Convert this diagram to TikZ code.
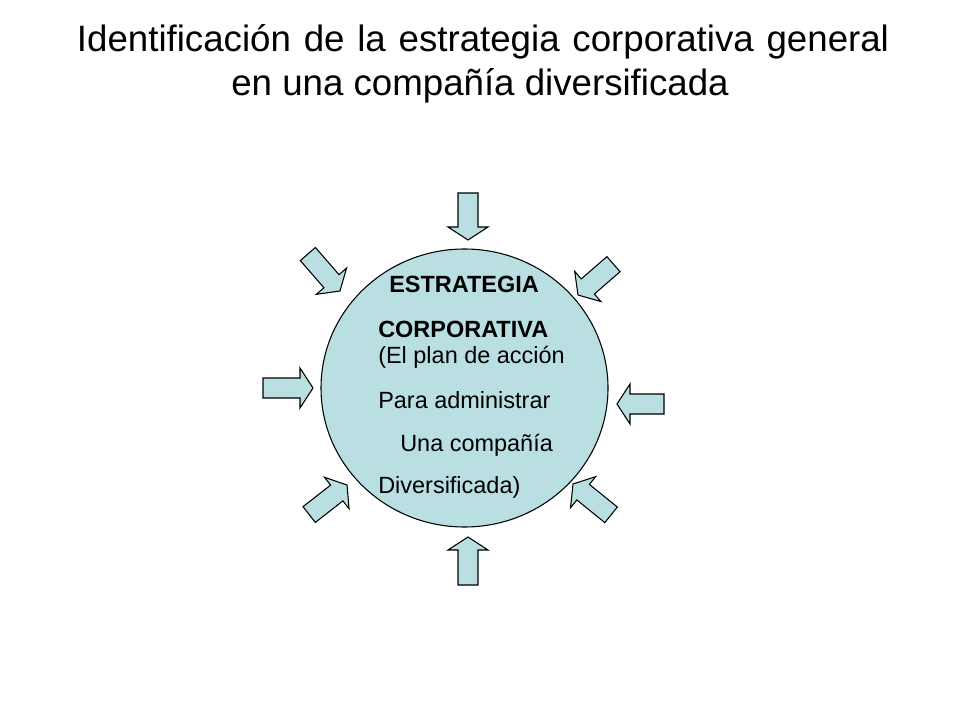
\documentclass[tikz,border=0pt]{standalone}
\usepackage{fontspec}
\setmainfont{Liberation Sans}
\definecolor{circfill}{RGB}{186,223,226}
\tikzset{
  blk/.style={draw=black, line width=0.8pt, fill=circfill, line join=miter},
  circ/.style={draw=black, line width=0.8pt, fill=circfill},
  titletext/.style={font=\fontsize{27.5}{32}\selectfont, inner sep=0pt, anchor=base},
  bodytext/.style={font=\fontsize{17.6}{20}\selectfont, inner sep=0pt, anchor=base west},
}
\newcommand\blockarrow[4]{%
  \draw[blk, shift={(#2)}, rotate=#3] (-#4,-10) -- (-13,-10) -- (-13,-20) -- (0,0) -- (-13,20) -- (-13,10) -- (-#4,10) -- cycle;
  \coordinate (#1) at (#2);}
\begin{document}
\begin{tikzpicture}[x=0.75pt, y=-0.75pt]
\fill[white] (0,0) rectangle (960,720);
\useasboundingbox (0,0) rectangle (960,720);
\node[titletext] (t1) at (483,52) {\spaceskip=9.6pt Identificación de la estrategia corporativa general};
\node[titletext] (t2) at (480,96) {en una compañía diversificada};
\draw[circ] (464.5,388) ellipse [x radius=143.5, y radius=139];
\coordinate (c) at (464.5,388);
\node[bodytext, font=\fontsize{17.6}{20}\selectfont\bfseries] (l1) at (389,292) {ESTRATEGIA};
\node[bodytext, font=\fontsize{17.6}{20}\selectfont\bfseries] (l2) at (378,337) {CORPORATIVA};
\node[bodytext] (l3) at (378,363) {(El plan de acción};
\node[bodytext] (l4) at (378,408) {Para administrar};
\node[bodytext] (l5) at (400,451) {Una compañía};
\node[bodytext] (l6) at (378,493) {Diversificada)};
\blockarrow{aT}{468,240}{-90}{47}
\blockarrow{aB}{468,537}{90}{48}
\blockarrow{aL}{313,388}{0}{50}
\blockarrow{aR}{617,404}{180}{47}
\blockarrow{aTL}{340,291}{-49}{49}
\blockarrow{aTR}{578,295}{-139}{47}
\blockarrow{aBL}{347,485}{38}{48}
\blockarrow{aBR}{573,484}{141}{49}
\end{tikzpicture}
\end{document}
